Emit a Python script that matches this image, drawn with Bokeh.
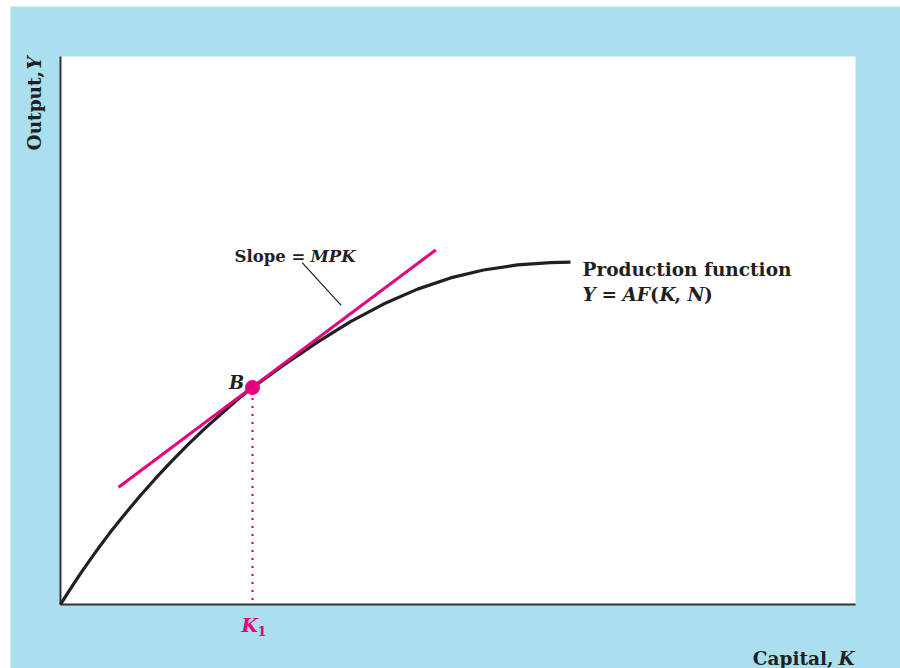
import math
from bokeh.plotting import figure
from bokeh.models import Range1d, Label, BoxAnnotation, Spacer
from bokeh.layouts import row, column
from bokeh.embed import file_html
from bokeh.resources import INLINE

# ---- data (K = capital, Y = output; axis spans 0..100) ----
capital = [0, 0.50, 1.01, 1.76, 2.64, 3.65, 4.78, 6.16, 7.80, 9.81, 11.95, 13.96,
           16.10, 18.24, 20.38, 22.26, 24.15, 28.05, 32.33, 36.48, 40.63, 44.91,
           49.06, 53.21, 57.48, 61.64, 64.15]
output = [0, 1.16, 2.30, 3.98, 5.89, 8.00, 10.30, 12.98, 15.98, 19.47, 23.00, 26.13,
          29.28, 32.24, 35.00, 37.41, 39.60, 43.67, 47.88, 51.62, 54.82, 57.55,
          59.60, 61.04, 61.97, 62.39, 62.46]
k1 = [24.15]
y_b = [39.60]
tangent_k = [7.3, 47.2]
tangent_y = [21.4, 64.7]
leader_k = [30.4, 35.3]
leader_y = [62.4, 54.6]
axis_max = 100

BLUE = "#aadfee"
MAGENTA = "#e5007d"
INK = "#231f20"
FONT = "DejaVu Serif"

# the frame fills the whole canvas so that texts outside the axes are not clipped
p = figure(width=890, height=662, output_backend="svg", toolbar_location=None,
           x_range=Range1d(-6.289, 105.660), y_range=Range1d(-11.679, 109.124),
           x_axis_type=None, y_axis_type=None, min_border=0)
p.grid.visible = False
p.outline_line_color = None
p.background_fill_color = BLUE
p.border_fill_color = BLUE

# white plotting area
p.add_layout(BoxAnnotation(left=0, right=axis_max, bottom=0, top=axis_max,
                           fill_color="white", fill_alpha=1, line_color=None,
                           level="underlay"))
# axes
p.segment(x0=[0, 0], y0=[0, 0], x1=[0, axis_max], y1=[axis_max, 0],
          line_color="#333333", line_width=2)

# production function
p.line(capital, output, line_color=INK, line_width=3.2, line_join="round")
# tangent
p.line(tangent_k, tangent_y, line_color=MAGENTA, line_width=3)
# dotted drop line
p.segment(x0=k1, y0=[0.8] * len(k1), x1=k1, y1=y_b, line_color=MAGENTA,
          line_width=2.2, line_dash="2 6")
# point B
p.scatter(k1, y_b, size=14, fill_color=MAGENTA, line_color=MAGENTA)
# leader line
p.line(leader_k, leader_y, line_color=INK, line_width=1.2)


def lab(text, x, y, size=18.5, style="bold", color=INK, align="left", angle=0, dx=0, dy=0):
    p.add_layout(Label(x=x, y=y, x_offset=dx, y_offset=dy,
                       text=text, text_font=FONT,
                       text_font_size=f"{size}px", text_font_style=style,
                       text_color=color, text_align=align,
                       text_baseline="alphabetic", angle=angle))


# slope label
lab("Slope =", 21.9, 63.5, size=16.5)
lab("MPK", 31.45, 63.5, size=16.5, style="bold italic")
# B
lab("B", 21.2, 40.5, size=18, style="bold italic")
# production function label
lab("Production function", 65.66, 61.13)
for txt, dx, st in [("Y", 0, "bold italic"), ("=", 19, "bold"),
                    ("AF", 40, "bold italic"), ("(", 67.5, "bold"),
                    ("K", 77, "bold italic"), (",", 92, "bold"),
                    ("N", 105, "bold italic"), (")", 121.5, "bold")]:
    lab(txt, 65.66, 56.57, style=st, dx=dx)
# K1
lab("K", 22.77, -3.83, size=19, style="bold italic", color=MAGENTA)
lab("1", 22.77, -3.83, size=13, style="bold", color=MAGENTA, dx=16, dy=-6)
# axis titles
lab("Capital,", 97.23, -9.85, align="right")
lab("K", 97.86, -9.85, style="bold italic")
lab("Output,", -3.33, 82.85, angle=math.pi / 2)
lab("Y", -3.33, 97.63, style="bold italic", angle=math.pi / 2)

layout = row(Spacer(width=10), column(Spacer(height=6), p))
open("out.html", "w").write(file_html(layout, INLINE))
